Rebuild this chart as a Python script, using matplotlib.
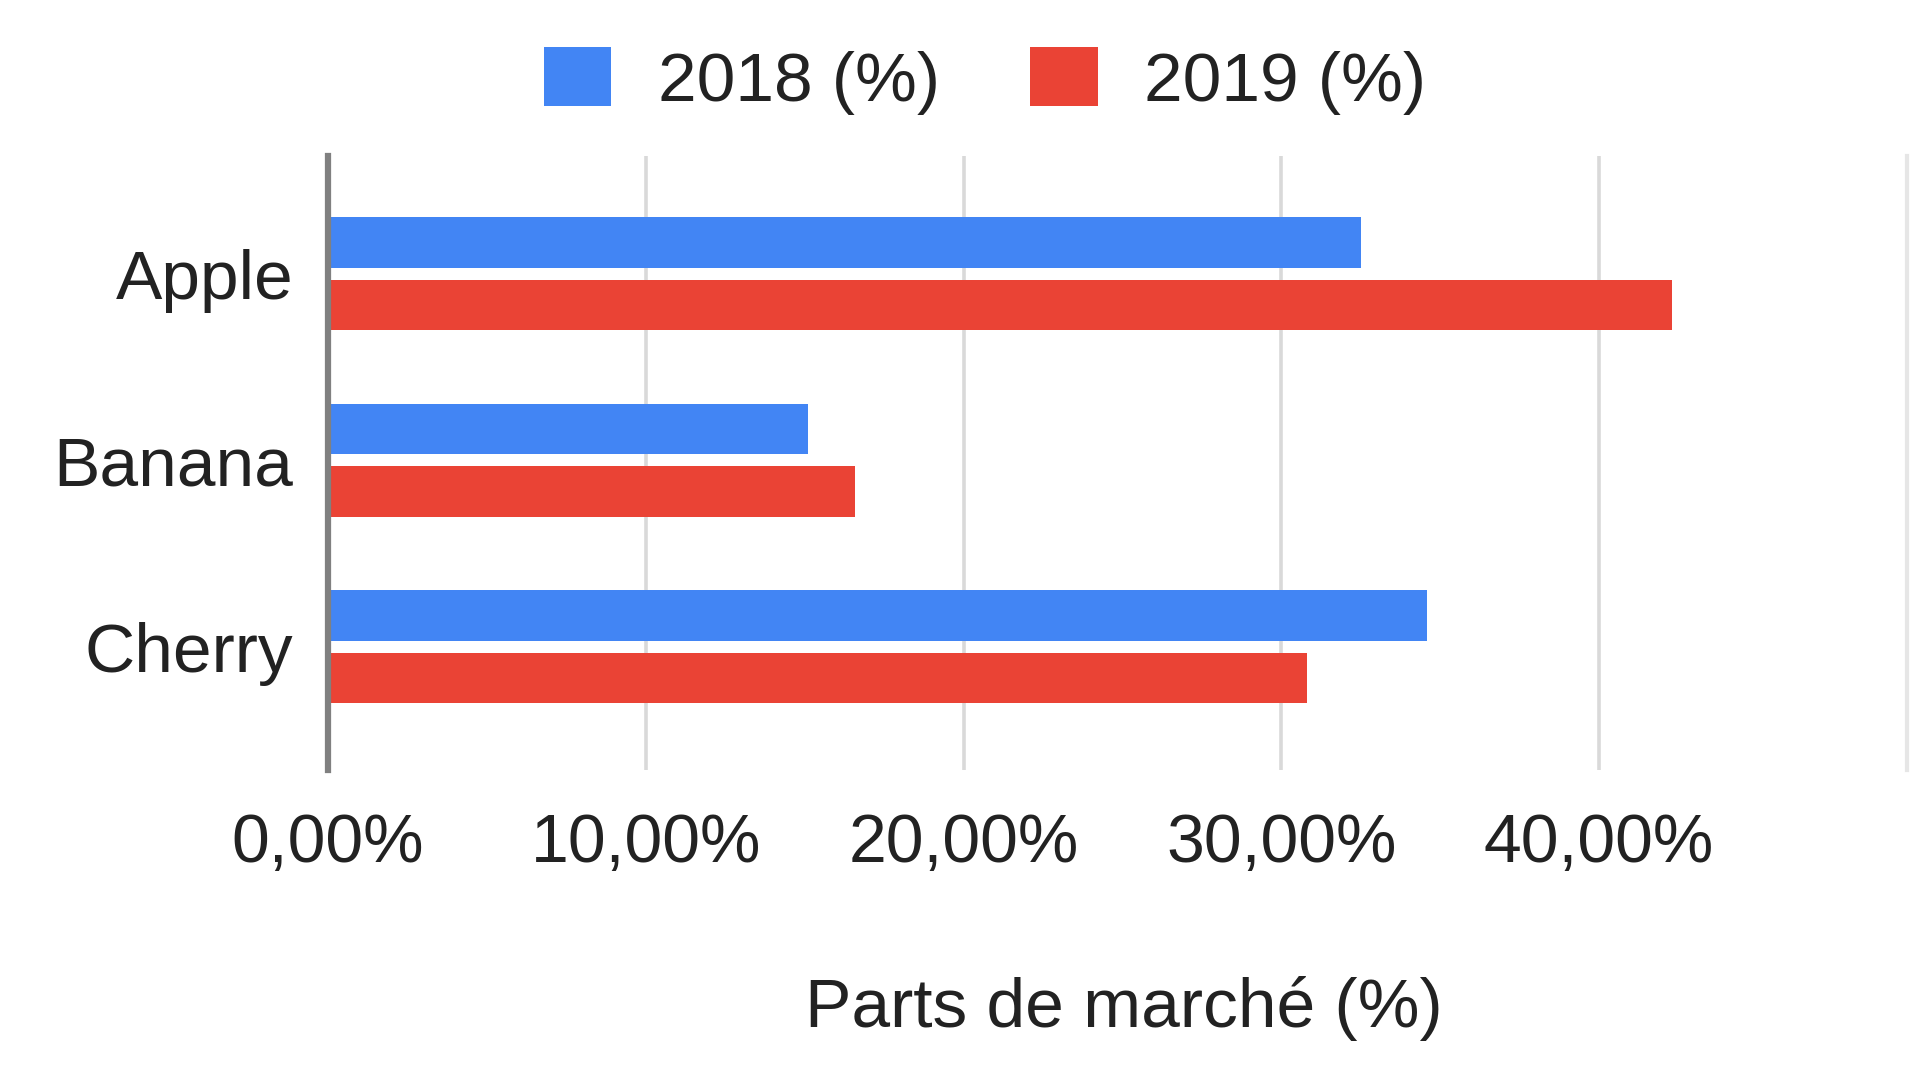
import numpy as np
import matplotlib.pyplot as plt
from matplotlib.ticker import FuncFormatter

plt.rcParams['font.family'] = ['Liberation Sans', 'DejaVu Sans']

fruits = ['Apple', 'Banana', 'Cherry']
share_2018 = [32.5, 15.1, 34.6]
share_2019 = [42.3, 16.6, 30.8]
series_labels = ['2018 (%)', '2019 (%)']
x_ticks = [0, 10, 20, 30, 40]

blue = '#4285F4'
red = '#EA4335'
text_color = '#222222'

fig = plt.figure(figsize=(19.11, 10.75), dpi=100)
ax = fig.add_axes([328 / 1911, 1 - 770 / 1075, (1907 - 328) / 1911, 614 / 1075])

y = np.arange(len(fruits))
bar_h = 0.27
off = 0.167
b1 = ax.barh(y - off, share_2018, height=bar_h, color=blue, label=series_labels[0], zorder=3)
b2 = ax.barh(y + off, share_2019, height=bar_h, color=red, label=series_labels[1], zorder=3)

ax.set_xlim(0, 49.69)
ax.set_ylim(2.66, -0.63)

ax.set_xticks(x_ticks)
ax.xaxis.set_major_formatter(FuncFormatter(lambda v, p: f'{v:.2f}'.replace('.', ',') + '%'))
ax.set_yticks(y)
ax.set_yticklabels(fruits)

ax.tick_params(axis='x', length=0, pad=30, labelsize=49, labelcolor=text_color)
ax.tick_params(axis='y', length=0, pad=25, labelsize=50, labelcolor=text_color)

ax.grid(axis='x', color='#d9d9d9', linewidth=2.6, zorder=0)
ax.set_axisbelow(True)
for s in ['top', 'bottom']:
    ax.spines[s].set_visible(False)
ax.spines['left'].set_color('#808080')
ax.spines['left'].set_linewidth(4.5)
ax.spines['left'].set_zorder(4)
ax.spines['right'].set_color('#e6e6e6')
ax.spines['right'].set_linewidth(3)

ax.set_xlabel('Parts de marché (%)', fontsize=50, color=text_color)
ax.xaxis.label.set_va('center')
ax.xaxis.set_label_coords(0.504, -0.389)

fig.legend(handles=[b1, b2], labels=series_labels, loc='center',
           bbox_to_anchor=(985 / 1911, 1 - 81 / 1075), ncol=2, frameon=False,
           fontsize=50, labelcolor=text_color, handlelength=0.97, handleheight=0.93,
           handletextpad=0.67, columnspacing=1.3, borderpad=0)

fig.savefig('out.png', dpi=100)
